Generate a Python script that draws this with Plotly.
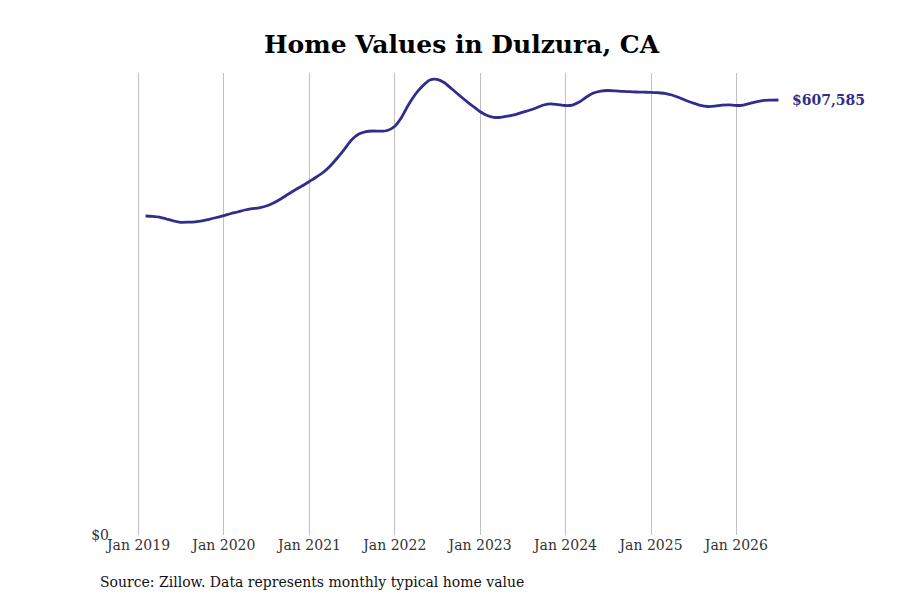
import pandas as pd
import plotly.graph_objects as go

dates = pd.date_range("2019-01-31", periods=90, freq="ME")
values = [
    445547, 445128, 444151, 441357, 438564, 436748, 436888, 437446, 438843, 440938, 443452, 445966,
    449039, 451134, 453928, 455743, 457000, 459514, 463704, 469291, 475576, 481862, 487448, 493733,
    500019, 506304, 515382, 526556, 539126, 551697, 560077, 563568, 564267, 563987, 564965, 570552,
    583821, 600581, 615945, 627118, 635499, 636476, 632007, 623627, 615246, 606866, 599184, 591502,
    585916, 583402, 583402, 585217, 587312, 590385, 593318, 596810, 600581, 602257, 601140, 599883,
    600581, 604771, 611755, 617341, 620135, 620833, 620414, 619576, 619157, 618738, 618459, 618319,
    617760, 616922, 614548, 611056, 606866, 603374, 600162, 598486, 598905, 600302, 600860, 599883,
    600581, 602955, 605469, 607145, 607400, 607585,
]
title_text = "Home Values in Dulzura, CA"
source_text = "Source: Zillow. Data represents monthly typical home value"
last_label = "${:,}".format(values[-1])

LINE = "#2e2e8c"
FONT = "DejaVu Serif"

fig = go.Figure()
fig.add_trace(go.Scatter(
    x=dates, y=values, mode="lines",
    line=dict(color=LINE, width=2.8, shape="spline", smoothing=0.6),
    hoverinfo="x+y", showlegend=False,
))
fig.add_annotation(
    x=dates[-1], y=values[-1], xref="x", yref="y",
    text="<b>" + last_label + "</b>", showarrow=False,
    xanchor="left", yanchor="middle", xshift=12,
    font=dict(family=FONT, size=14, color=LINE),
)
fig.add_annotation(
    xref="paper", yref="paper",
    x=(98 - 110) / 675, y=-(582 - 535) / 462,
    xanchor="left", yanchor="middle",
    text=source_text, showarrow=False,
    font=dict(family=FONT, size=14, color="#111"),
)
fig.update_layout(
    width=900, height=600,
    paper_bgcolor="white", plot_bgcolor="white",
    margin=dict(l=110, r=115, t=73, b=65),
    title=dict(text="<b>" + title_text + "</b>", x=461.5 / 900, xanchor="center",
               y=0.926, yanchor="middle",
               font=dict(family=FONT, size=25, color="black")),
    font=dict(family=FONT, size=14, color="#333"),
    xaxis=dict(
        range=["2018-09-01", "2026-07-28"],
        tick0="2019-01-01", dtick="M12", tickformat="%b %Y",
        showgrid=True, gridcolor="#c0c0c0", gridwidth=1,
        showline=False, zeroline=False, ticks="",
        tickfont=dict(family=FONT, size=14, color="#333"),
    ),
    yaxis=dict(
        range=[0, 645300], tickvals=[0], ticktext=["$0"],
        showgrid=False, zeroline=False, showline=False, ticks="",
        tickfont=dict(family=FONT, size=14, color="#333"),
    ),
)
fig.write_html(
    "out.html",
    config={"displayModeBar": False},
    post_script="document.body.style.margin='0';document.body.style.overflow='hidden';",
)
